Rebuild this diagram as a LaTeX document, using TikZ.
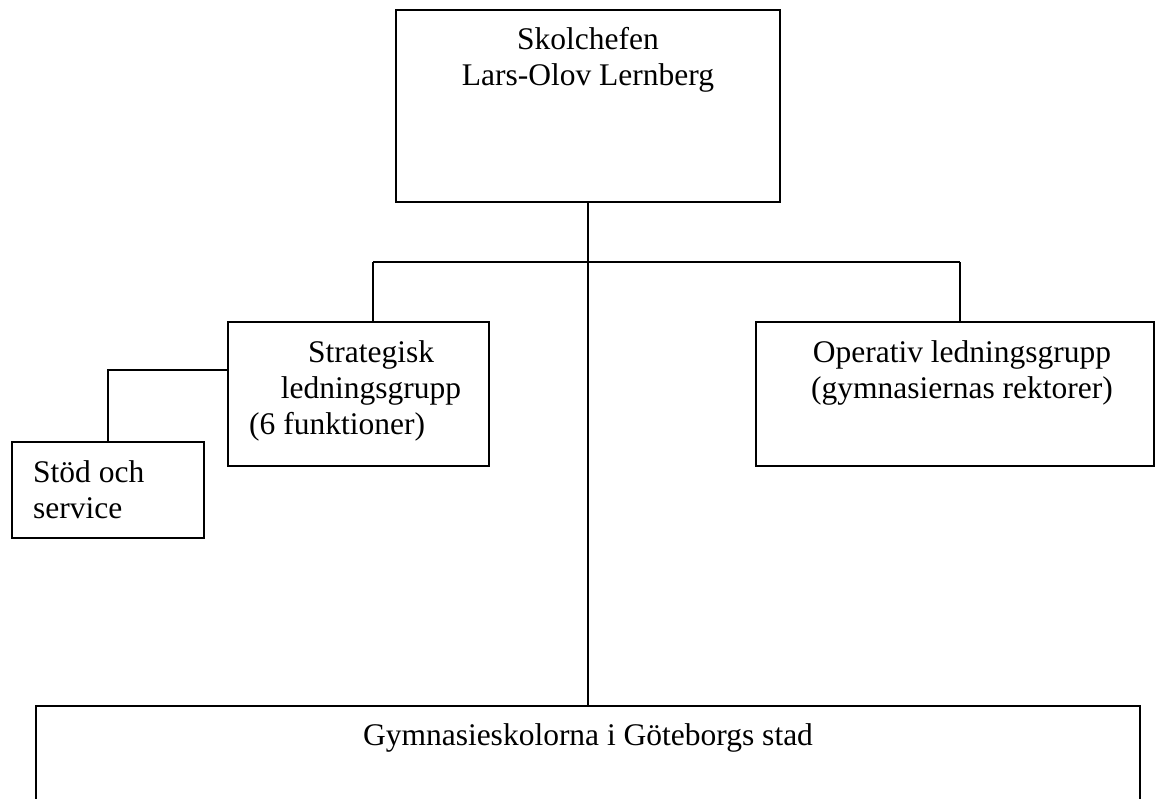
\documentclass[tikz,border=0pt]{standalone}
\usepackage{fontspec}
\setmainfont{Liberation Serif}
\usepackage{tikz}

\begin{document}
\begin{tikzpicture}[x=1pt, y=-1pt,
    boxnode/.style={rectangle, draw=black, line width=1.4pt, inner sep=0pt},
    txtnode/.style={inner sep=0pt, anchor=base, font=\fontsize{31.5}{36}\selectfont}]
            \useasboundingbox (0,0) rectangle (1155,798);
            \clip (0,0) rectangle (1155,798);

            \node[boxnode, minimum width=384pt, minimum height=192pt] (chef) at (588,106) {};
            \node[boxnode, minimum width=261pt, minimum height=144pt] (strat) at (358.5,394) {};
            \node[boxnode, minimum width=398pt, minimum height=144pt] (oper) at (955,394) {};
            \node[boxnode, minimum width=192pt, minimum height=96pt] (stod) at (108,490) {};
            \node[boxnode, minimum width=1104pt, minimum height=140pt] (gymn) at (588,776) {};

            % multi-line texts sit on the baseline of their last line
            \node[txtnode, align=center] (chefT) at (588,85) {Skolchefen\\Lars-Olov Lernberg};
            \node[txtnode, align=center] (stratT) at (371,398) {Strategisk\\ledningsgrupp};
            \node[txtnode, anchor=base west] (stratF) at (249,434) {(6 funktioner)};
            \node[txtnode, align=center] (operT) at (962,398) {Operativ ledningsgrupp\\(gymnasiernas rektorer)};
            \node[txtnode, anchor=base west, align=left] (stodT) at (33,518) {Stöd och\\service};
            \node[txtnode] (gymnT) at (588,745) {Gymnasieskolorna i Göteborgs stad};

            \coordinate (bar) at (588,262);
            \coordinate (barL) at (373,262);
            \coordinate (barR) at (960,262);
            \coordinate (side) at (108,370);

            \tikzset{every path/.style={line width=1.4pt}}

            \draw (chef.south) -- (bar);
            \draw (barL) -- (barR);
            \draw (barL) -- (barL |- strat.north);
            \draw (barR) -- (barR |- oper.north);
            \draw (bar) -- (bar |- gymn.north);
            \draw (stod.north) -- (side) -- (side -| strat.west);

        \end{tikzpicture}
\end{document}
